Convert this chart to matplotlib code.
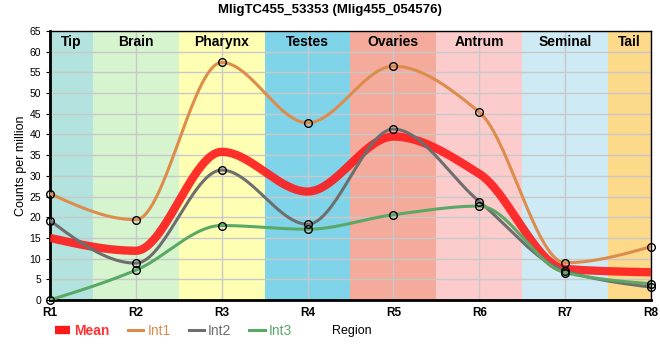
import numpy as np
import matplotlib
matplotlib.use('Agg')
import matplotlib.pyplot as plt
from matplotlib.lines import Line2D

plt.rcParams['font.family'] = ['Liberation Sans', 'DejaVu Sans']

### data
regions = ['R1', 'R2', 'R3', 'R4', 'R5', 'R6', 'R7', 'R8']
tissues = ['Tip', 'Brain', 'Pharynx', 'Testes', 'Ovaries', 'Antrum', 'Seminal', 'Tail']
tissue_colors = ['#b3e3de', '#d6f5cf', '#ffffb3', '#80d4ea',
                 '#f4ab9c', '#fccccc', '#ceeaf4', '#fdd98a']

int1 = [25.7, 19.4, 57.4, 42.8, 56.5, 45.4, 9.0, 12.9]
int2 = [19.2, 8.9, 31.4, 18.3, 41.3, 23.8, 7.0, 3.1]
int3 = [0.0, 7.2, 18.0, 17.1, 20.6, 22.7, 6.6, 3.9]
mean = [15.0, 11.9, 35.8, 26.2, 39.5, 30.5, 7.5, 6.7]


def monotone(y, n=60):
    # Fritsch-Carlson monotone cubic, like d3 curveMonotoneX
    y = np.asarray(y, float)
    x = np.arange(len(y), dtype=float)
    d = np.diff(y)
    m = np.zeros(len(y))
    for i in range(1, len(y) - 1):
        if d[i - 1] * d[i] > 0:
            m[i] = 2.0 / (1.0 / d[i - 1] + 1.0 / d[i])
    m[0] = (3 * d[0] - m[1]) / 2
    m[-1] = (3 * d[-1] - m[-2]) / 2
    if m[0] * d[0] < 0:
        m[0] = 0
    if m[-1] * d[-1] < 0:
        m[-1] = 0
    xs, ys = [], []
    for i in range(len(y) - 1):
        t = np.linspace(0, 1, n, endpoint=(i == len(y) - 2))
        h00 = 2 * t**3 - 3 * t**2 + 1
        h10 = t**3 - 2 * t**2 + t
        h01 = -2 * t**3 + 3 * t**2
        h11 = t**3 - t**2
        xs.append(x[i] + t)
        ys.append(h00 * y[i] + h10 * m[i] + h01 * y[i + 1] + h11 * m[i + 1])
    return np.concatenate(xs), np.concatenate(ys)


fig = plt.figure(figsize=(6.6, 3.6), dpi=100)
ax = fig.add_axes([50 / 660, 1 - 300 / 360, 601 / 660, 269 / 360])

# tissue bands
for i, (name, c) in enumerate(zip(tissues, tissue_colors)):
    lo = max(i - 0.5, 0)
    hi = min(i + 0.5, len(regions) - 1)
    ax.axvspan(lo, hi, color=c, lw=0, zorder=0)
    ax.text((lo + hi) / 2, 62.4, name, ha='center', va='center',
            fontsize=10, fontweight='bold', zorder=5)

ax.grid(True, color='#c8c8c8', lw=1, zorder=1)
ax.set_axisbelow(True)

series = [(int1, '#dd8c4c', 'Int1'), (int2, '#6e6e6e', 'Int2'), (int3, '#5aa866', 'Int3')]

xm, ym = monotone(mean)
ax.plot(xm, ym, color='#ff1a1a', lw=6, alpha=0.9, solid_capstyle='butt', zorder=3)
for vals, col, lab in series:
    xs, ys = monotone(vals)
    ax.plot(xs, ys, color=col, lw=2.2, zorder=4)
for vals, col, lab in series:
    ax.plot(range(len(regions)), vals, 'o', ms=5.5, mfc='none', mec='black',
            mew=1, zorder=6, clip_on=False)

ax.set_xlim(0, len(regions) - 1)
ax.set_ylim(0, 65)
ax.set_yticks(range(0, 66, 5))
ax.set_xticks(range(len(regions)))
ax.set_xticklabels(regions, fontsize=8.5, fontweight='bold')
ax.tick_params(axis='y', labelsize=7.5, length=3)
ax.tick_params(axis='x', length=0, pad=5)
ax.set_ylabel('Counts per million', fontsize=9, labelpad=2)
for s in ['left', 'bottom']:
    ax.spines[s].set_linewidth(2)
for s in ['top', 'right']:
    ax.spines[s].set_linewidth(1)

fig.text(0.5, 1 - 10 / 360, 'MligTC455_53353 (Mlig455_054576)', ha='center',
         va='center', fontsize=9.5, fontweight='bold')
fig.text(332 / 660, 1 - 331 / 360, 'Region', ha='left', va='center', fontsize=9)

handles = [Line2D([], [], color='#ff1a1a', lw=6, solid_capstyle='butt')]
handles += [Line2D([], [], color=c, lw=2.2) for _, c, _ in series]
leg = fig.legend(handles, ['Mean', 'Int1', 'Int2', 'Int3'], ncol=4,
                 loc='center left', bbox_to_anchor=(55 / 660, 1 - 331 / 360),
                 frameon=False, fontsize=10, handlelength=1.1, handletextpad=0.3,
                 columnspacing=1.3, borderpad=0, borderaxespad=0,
                 labelcolor=['#ff3333', '#dd8c4c', '#6e6e6e', '#5aa866'])
leg.get_texts()[0].set_fontweight('bold')

fig.savefig('out.png', dpi=100)
